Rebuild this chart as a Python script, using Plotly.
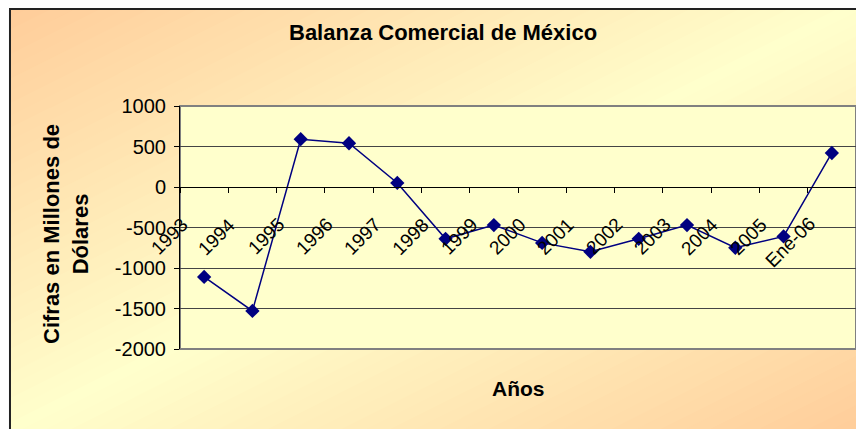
import plotly.graph_objects as go

# datos
years = ["1993", "1994", "1995", "1996", "1997", "1998", "1999",
         "2000", "2001", "2002", "2003", "2004", "2005", "Ene-06"]
balance = [-1110, -1530, 590, 540, 50, -640, -470,
           -690, -800, -640, -470, -750, -610, 420]
y_ticks = [1000, 500, 0, -500, -1000, -1500, -2000]

# la pagina deja un margen de 8px alrededor de la figura
OFF = 8
W, H = 864 - OFF, 429 - OFF
L, R, T, B = 180 - OFF, 8, 106 - OFF, 429 - 349
PW, PH = W - L - R, H - T - B


def to_paper(px, py):
    # coordenadas de pantalla -> papel
    px, py = px - OFF, py - OFF
    return (px - L) / PW, (H - B - py) / PH


def mix(c1, c2, t):
    return "rgb(%d,%d,%d)" % tuple(round(a + (b - a) * t) for a, b in zip(c1, c2))


peach, cream = (255, 204, 153), (255, 255, 204)
shapes = []

# fondo degradado diagonal del area del grafico
x0, y0, cw, ch = 10, 5, 860, 430
n = 70
for i in range(n):
    c0, c1 = 2 * i / n, 2 * (i + 1) / n + 0.01
    s = (c0 + c1) / 2
    t = s if s <= 1 else 2 - s
    pts = [(c0 + 1, -1), (c1 + 1, -1), (c1 - 2, 2), (c0 - 2, 2)]
    path = ""
    for k, (u, v) in enumerate(pts):
        px, py = to_paper(x0 + cw * u, y0 + ch * v)
        path += ("M" if k == 0 else "L") + "%.4f,%.4f " % (px, py)
    shapes.append(dict(type="path", path=path + "Z", xref="paper", yref="paper",
                       fillcolor=mix(peach, cream, t), line_width=0, layer="below"))

# tapar fuera del borde
for (ax0, ay0, ax1, ay1) in [(-20, -20, x0, 460)]:
    p0, p1 = to_paper(ax0, ay0), to_paper(ax1, ay1)
    shapes.append(dict(type="rect", xref="paper", yref="paper", x0=p0[0], y0=p0[1],
                       x1=p1[0], y1=p1[1], fillcolor="white", line_width=0, layer="below"))

# borde exterior (el de arriba queda pegado al borde visible)
bx0, by0 = to_paper(x0, 460)
bx1, by1 = to_paper(x0, 9)
bx2, _ = to_paper(900, 9)
shapes.append(dict(type="path", path="M%.4f,%.4f L%.4f,%.4f L%.4f,%.4f" % (bx0, by0, bx1, by1, bx2, by1),
                   xref="paper", yref="paper", line=dict(color="#222222", width=2), layer="below"))

# area de trazado
shapes.append(dict(type="rect", xref="paper", yref="paper", x0=0, y0=0, x1=1, y1=1,
                   fillcolor="#FFFFCC", line=dict(color="#808080", width=2), layer="below"))

fig = go.Figure()
fig.add_trace(go.Scatter(
    x=years, y=balance, mode="lines+markers",
    line=dict(color="#000080", width=1.5),
    marker=dict(symbol="diamond", size=11, color="#000080"),
    showlegend=False, cliponaxis=False))

font = "Liberation Sans, Arial, sans-serif"


def label(text, px, py, size, angle=0):
    x, y = to_paper(px, py)
    return dict(text=text, xref="paper", yref="paper", x=x, y=y, showarrow=False,
                xanchor="center", yanchor="middle", textangle=angle,
                font=dict(size=size, color="black", family=font))


annotations = [
    label("<b>Balanza Comercial de México</b>", 443, 33, 22),
    label("<b>Cifras en Millones de<br>Dólares</b>", 66, 234, 22, -90),
    label("<b>Años</b>", 518, 388, 21),
]
for i, yr in enumerate(years):
    annotations.append(dict(text=yr, x=i, y=0, xref="x", yref="y", showarrow=False,
                            textangle=-45, xanchor="right", yanchor="top",
                            xshift=-10, yshift=-24,
                            font=dict(size=19, color="black", family=font)))

fig.update_layout(
    width=W, height=H,
    margin=dict(l=L, r=R, t=T, b=B),
    paper_bgcolor="white", plot_bgcolor="rgba(0,0,0,0)",
    shapes=shapes, annotations=annotations,
    font=dict(family=font, color="black"),
    xaxis=dict(type="category", range=[-0.5, len(years) - 0.5], anchor="free",
               position=(0 - (-2000)) / 3000, showline=True, linecolor="black", linewidth=1,
               ticks="outside", ticklen=5, tickcolor="black", tickson="boundaries",
               showticklabels=False, showgrid=False, zeroline=False),
    yaxis=dict(range=[-2000, 1000], tickvals=y_ticks, ticktext=[str(v) for v in y_ticks],
               showline=True, linecolor="black",
               linewidth=1, ticks="outside", ticklen=5, tickcolor="black",
               showgrid=True, gridcolor="#444444", gridwidth=1, zeroline=False,
               tickfont=dict(size=20, color="black", family=font), ticklabelstandoff=4),
)

fig.write_html("out.html")
